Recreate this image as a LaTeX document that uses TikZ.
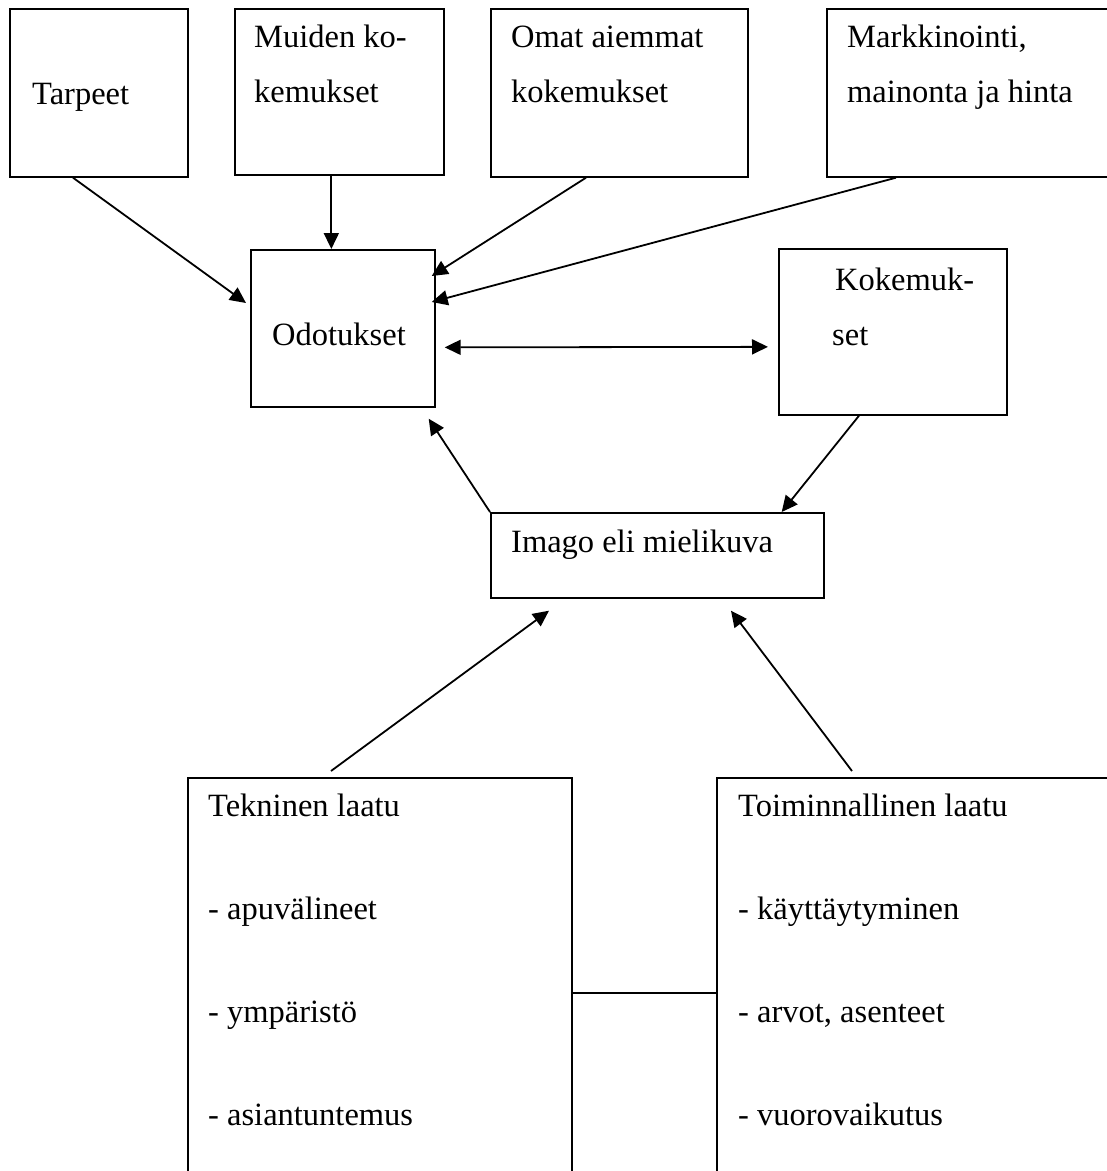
\documentclass[tikz,border=0pt]{standalone}
\usepackage{fontspec}
\setmainfont{Liberation Serif}
\usetikzlibrary{arrows.meta}
\tikzset{
  >={Triangle[length=16pt,width=15pt]},
  box/.style={draw, line width=1.7pt, anchor=north west, inner sep=0pt},
  txt/.style={anchor=base west, inner sep=0pt, align=left, font=\fontsize{32.5}{55}\selectfont},
  wide/.style={txt, font=\fontsize{32.5}{102.7}\selectfont},
  arr/.style={line width=1.8pt, ->}
}
\begin{document}
\begin{tikzpicture}[x=1pt,y=-1pt]
\useasboundingbox (0,0) rectangle (1107,1171);
\clip (0,0) rectangle (1107,1171);
% boxes
\node[box, minimum width=178pt, minimum height=168pt] (tarpeet) at (9,8) {};
\node[box, minimum width=209pt, minimum height=166pt] (muiden) at (234,8) {};
\node[box, minimum width=257pt, minimum height=168pt] (omat) at (490,8) {};
\node[box, minimum width=300pt, minimum height=168pt] (markk) at (826,8) {};
\node[box, minimum width=184pt, minimum height=157pt] (odot) at (250,249) {};
\node[box, minimum width=228pt, minimum height=166pt] (kokem) at (778,248) {};
\node[box, minimum width=333pt, minimum height=85pt] (imago) at (490,512) {};
\node[box, minimum width=384pt, minimum height=420pt] (teknin) at (187,777) {};
\node[box, minimum width=420pt, minimum height=420pt] (toimin) at (716,777) {};
% texts (base = last line)
\node[txt] (tarpeet-t) at (32,104) {Tarpeet};
\node[txt] (muiden-t) at (254,102) {Muiden ko-\\kemukset};
\node[txt] (omat-t) at (511,102) {Omat aiemmat\\kokemukset};
\node[txt] (markk-t) at (847,102) {Markkinointi,\\mainonta ja hinta};
\node[txt] (odot-t) at (272,345) {Odotukset};
\node[txt] (kokem-t) at (832,345) {\hspace*{3pt}Kokemuk-\\set};
\node[txt] (imago-t) at (511,552) {Imago eli mielikuva};
\node[wide] (teknin-t) at (208,1125) {Tekninen laatu\\- apuvälineet\\- ympäristö\\- asiantuntemus};
\node[wide] (toimin-t) at (738,1125) {Toiminnallinen laatu\\- käyttäytyminen\\- arvot, asenteet\\- vuorovaikutus};
% arrows
\draw[arr] ([xshift=64pt]tarpeet.south west) -- ([xshift=-4pt,yshift=-54pt]odot.north west);
\draw[arr] ([xshift=-8pt]muiden.south) -- ([xshift=-8pt]muiden.south |- odot.north);
\draw[arr] ([xshift=96pt]omat.south west) -- ([xshift=-4pt,yshift=-27pt]odot.north east);
\draw[arr] ([xshift=70pt]markk.south west) -- ([xshift=-4pt,yshift=-53pt]odot.north east);
\draw[arr, <->] ([xshift=9pt,yshift=-19pt]odot.east) -- ([xshift=-10pt,yshift=-15pt]kokem.west);
\draw[arr] (imago.north west) -- ([xshift=-7pt,yshift=-11pt]odot.south east);
\draw[arr] ([xshift=81pt]kokem.south west) -- ([xshift=-43pt]imago.north east);
\draw[arr] ([xshift=144pt,yshift=6pt]teknin.north west) -- ([xshift=59pt,yshift=-12pt]imago.south west);
\draw[arr] ([xshift=136pt,yshift=6pt]toimin.north west) -- ([xshift=241pt,yshift=-12pt]imago.south west);
\draw[line width=1.7pt] ([yshift=-216pt]teknin.north east) -- ([yshift=-216pt]toimin.north west);
\end{tikzpicture}
\end{document}
